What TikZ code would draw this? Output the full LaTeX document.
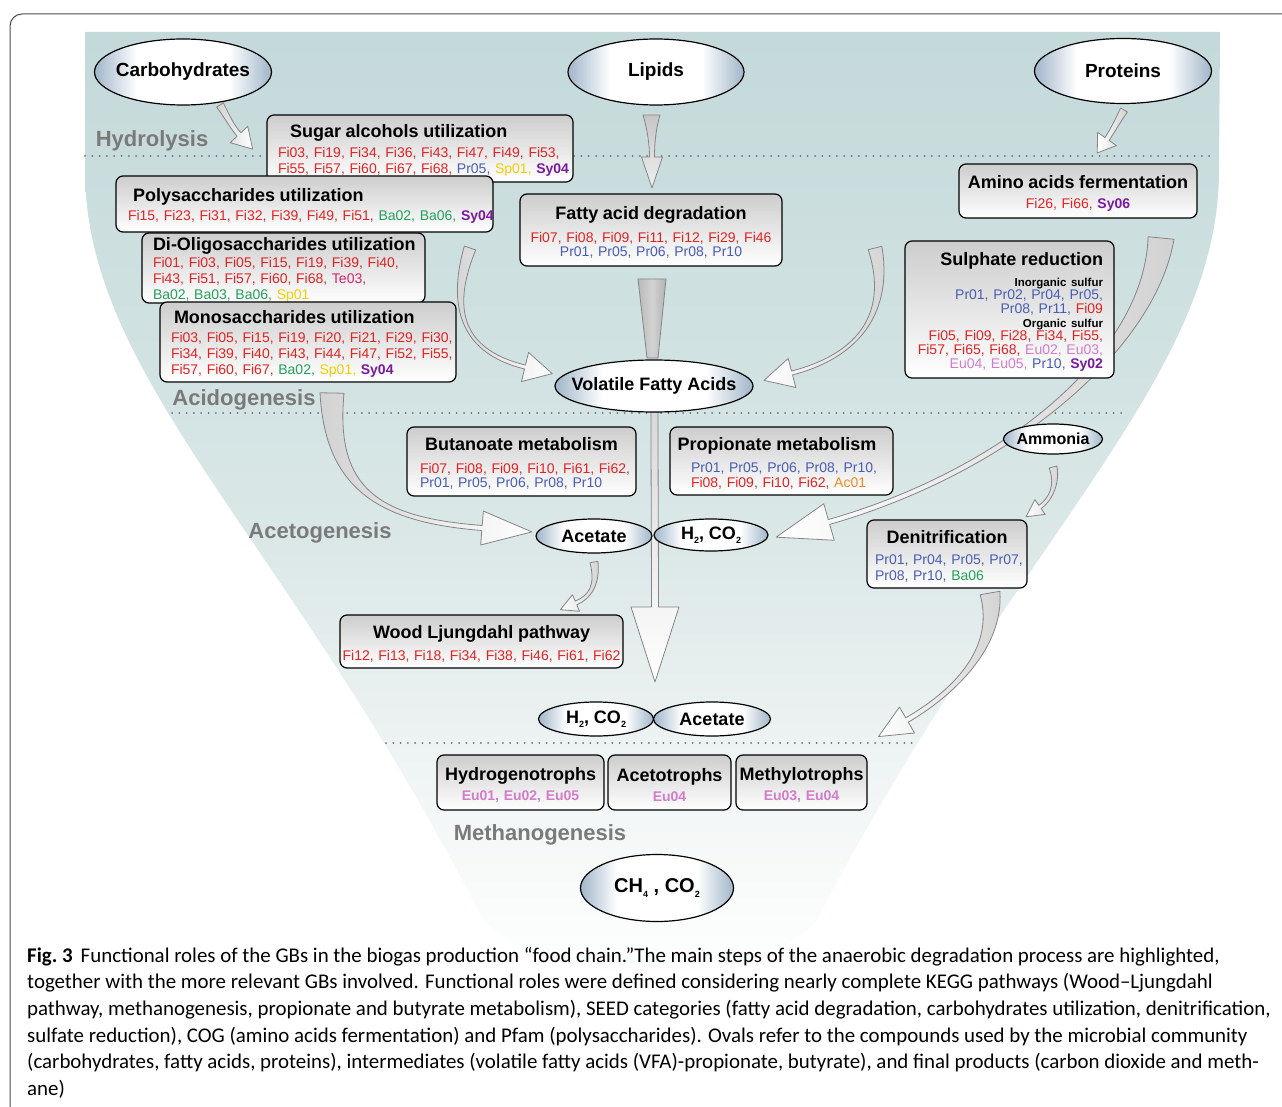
\documentclass[tikz,border=0pt]{standalone}
\usepackage{fontspec}
\setmainfont{Liberation Sans}
\newfontfamily\capfont{Carlito}
\usetikzlibrary{calc,shapes.geometric}
\definecolor{boxtop}{HTML}{CDCDCD}
\definecolor{elc}{HTML}{A0B6C9}
\definecolor{stagegray}{HTML}{7A7A7A}
\definecolor{dotgray}{HTML}{707070}
\definecolor{arrowline}{HTML}{858585}
\definecolor{framecol}{HTML}{4D4D4D}
\definecolor{cfi}{HTML}{E02424}
\definecolor{cpr}{HTML}{4A5DB4}
\definecolor{csp}{HTML}{F2CF00}
\definecolor{csy}{HTML}{7A1AA0}
\definecolor{cba}{HTML}{23A15B}
\definecolor{cte}{HTML}{D8246F}
\definecolor{ceu}{HTML}{D37CCB}
\definecolor{cac}{HTML}{F08A24}
\definecolor{fun1}{HTML}{C4D9DA}
\definecolor{fun2}{HTML}{D3E3E3}
\definecolor{fun3}{HTML}{DCE8E8}
\definecolor{fun4}{HTML}{E8EFEF}
\definecolor{fun5}{HTML}{F7F9F9}
\pgfdeclarehorizontalshading{ellsh}{100bp}{color(0bp)=(elc); color(25bp)=(elc); color(37bp)=(white); color(63bp)=(white); color(75bp)=(elc); color(100bp)=(elc)}
\pgfdeclareverticalshading{funsh}{100bp}{color(0bp)=(white); color(25bp)=(white); color(32bp)=(fun5); color(41bp)=(fun4); color(48bp)=(fun3); color(56bp)=(fun2); color(75bp)=(fun1); color(100bp)=(fun1)}
\newcommand\gbF[1]{\textcolor{cfi}{#1}}
\newcommand\gbP[1]{\textcolor{cpr}{#1}}
\newcommand\gbS[1]{\textcolor{csp}{#1}}
\newcommand\gbY[1]{\textcolor{csy}{\bfseries #1}}
\newcommand\gbB[1]{\textcolor{cba}{#1}}
\newcommand\gbT[1]{\textcolor{cte}{#1}}
\newcommand\gbE[1]{\textcolor{ceu}{#1}}
\newcommand\gbA[1]{\textcolor{cac}{#1}}
\newcommand\boxtitle[1]{\mbox{\rule{0pt}{17.5pt}\fontsize{18}{20}\selectfont\bfseries #1}}
\newcommand\subsc[1]{\raisebox{-0.22em}{\fontsize{9}{9}\selectfont #1}}
\newcommand\blockarrow[9]{%
 \path[#9] ($(#1)!#5!90:(#2)$) .. controls ($(#2)!{0.25*#5+0.75*#6}!-90:(#1)$) and ($(#3)!#6!90:(#4)$) .. ($(#4)!#6!-90:(#3)$)
 -- ($(#4)!#7!-90:(#3)$) -- ($(#4)!-#8!(#3)$) -- ($(#4)!#7!90:(#3)$) -- ($(#4)!#6!90:(#3)$)
 .. controls ($(#3)!#6!-90:(#4)$) and ($(#2)!{0.25*#5+0.75*#6}!90:(#1)$) .. ($(#1)!#5!-90:(#2)$) -- cycle;}
\newcommand\ellip[6]{%
 \node[ell, minimum width=#3pt, minimum height=#4pt] (#1) at (#2) {};
 \node[elltxt, font=\bfseries\fontsize{#5}{#5}\selectfont] (#1t) at (#1.center) {#6};}
\tikzset{
 bx/.style={draw=black, line width=1.2pt, rounded corners=7pt, top color=boxtop, bottom color=white, inner ysep=0pt, font=\fontsize{14}{16}\selectfont},
 ell/.style={ellipse, draw=black, line width=1.2pt, shade, shading=ellsh, inner sep=0pt},
 elltxt/.style={inner sep=0pt},
 stage/.style={font=\bfseries\fontsize{22}{24}\selectfont, text=stagegray, inner sep=0pt},
 dotline/.style={draw=dotgray, line width=2pt, line cap=round, dash pattern=on 0pt off 7.3pt},
 blk/.style={draw=arrowline, line width=0.8pt, line join=round},
}
\begin{document}
\begin{tikzpicture}[x=1pt,y=-1pt]
\useasboundingbox (0,0) rectangle (1282,1107);
% funnel background
\path[shade, shading=funsh] (85,32) -- (1220,32) -- (1219,170)
  .. controls (1219,380) and (1014,540) .. (817,920)
  .. controls (760,990) and (545,990) .. (483,920)
  .. controls (290,540) and (85,380) .. (85,170) -- cycle;
% frame
\begin{scope}
\clip (0,0) rectangle (1282,1107);
\draw[framecol, line width=1pt, rounded corners=12pt] (10,14) rectangle (1320,1140);
\end{scope}
% dotted stage lines
\draw[dotline] (85,156) -- (1210,156);
\draw[dotline] (172,413) -- (1122,413);
\draw[dotline] (386,743) -- (915,743);
% stage labels
\node[stage] (hyd) at (152,141) {Hydrolysis};
\node[stage] (acid) at (244,400) {Acidogenesis};
\node[stage] (acet) at (320,533) {Acetogenesis};
\node[stage] (meth) at (540,835) {Methanogenesis};
% block arrows
\blockarrow{220,105}{225.4,113.4}{232,127}{239,134.5}{4pt}{2.5pt}{12pt}{20pt}{blk, left color=gray!35, right color=white}
\blockarrow{1124,110}{1119,118.6}{1111,133.3}{1107,139}{4pt}{2.5pt}{11.5pt}{17pt}{blk, left color=white, right color=gray!35}
\blockarrow{651.5,115}{651.5,130}{652,145}{652,157}{8.5pt}{2.5pt}{10.5pt}{31pt}{blk, top color=gray!45, bottom color=gray!12}
\path[blk, left color=gray!55, right color=gray!60, middle color=gray!35] (638,279) -- (647,358) -- (658,358) -- (666,279) -- cycle;
\blockarrow{654.5,412}{654.5,480}{655,560}{655,607}{3.5pt}{3.5pt}{24pt}{75pt}{blk, top color=gray!30, bottom color=white}
\blockarrow{470,248}{452,300}{455,350}{525,367}{6pt}{2pt}{15pt}{28pt}{blk, left color=gray!35, right color=white}
\blockarrow{875,248}{888,300}{872,352}{792,373}{7pt}{2pt}{15pt}{29pt}{blk, left color=white, right color=gray!35}
\blockarrow{332,393}{330,490}{380,520}{482,528}{12pt}{2.5pt}{17pt}{50pt}{blk, left color=gray!35, right color=white}
\blockarrow{1161,238}{1150,350}{1010,470}{829,522}{13pt}{2.5pt}{19pt}{55pt}{blk, left color=white, right color=gray!35}
\blockarrow{1053,467}{1058,485}{1050,500}{1040,507}{4pt}{2pt}{9pt}{17pt}{blk, left color=white, right color=gray!35}
\blockarrow{594,562}{598,585}{590,597}{576,603}{4pt}{2pt}{9pt}{17pt}{blk, left color=white, right color=gray!35}
\blockarrow{990,593}{1000,650}{950,695}{907,720}{10pt}{2.5pt}{15pt}{33pt}{blk, left color=white, right color=gray!35}
% boxes
\node[bx, inner xsep=11pt, text width=284pt, minimum height=67pt, align=left] (sugar) at (420,148.5)
{\hspace*{12pt}\boxtitle{Sugar alcohols utilization}\\[4pt]
\mbox{\gbF{Fi03, Fi19, Fi34, Fi36, Fi43, Fi47, Fi49, Fi53,}}\\
\mbox{\gbF{Fi55, Fi57, Fi60, Fi67, Fi68,} \gbP{Pr05,} \gbS{Sp01,} \gbY{Sy04}}};
\node[bx, inner xsep=12pt, text width=353pt, minimum height=56pt, align=left] (poly) at (304.5,204)
{\hspace*{5pt}\boxtitle{Polysaccharides utilization}\\[3pt]
\mbox{\gbF{Fi15, Fi23, Fi31, Fi32, Fi39, Fi49, Fi51,} \gbB{Ba02, Ba06,} \gbY{Sy04}}};
\node[bx, inner xsep=11pt, text width=261pt, minimum height=70pt, align=left] (dioligo) at (283.5,268)
{\boxtitle{Di-Oligosaccharides utilization}\\[1pt]
\mbox{\gbF{Fi01, Fi03, Fi05, Fi15, Fi19, Fi39, Fi40,}}\\
\mbox{\gbF{Fi43, Fi51, Fi57, Fi60, Fi68,} \gbT{Te03,}}\\
\mbox{\gbB{Ba02, Ba03, Ba06,} \gbS{Sp01}}};
\node[bx, inner xsep=11pt, text width=274pt, minimum height=80pt, align=left] (mono) at (308,342)
{\hspace*{3pt}\boxtitle{Monosaccharides utilization}\\[3pt]
\mbox{\gbF{Fi03, Fi05, Fi15, Fi19, Fi20, Fi21, Fi29, Fi30,}}\\
\mbox{\gbF{Fi34, Fi39, Fi40, Fi43, Fi44, Fi47, Fi52, Fi55,}}\\
\mbox{\gbF{Fi57, Fi60, Fi67,} \gbB{Ba02,} \gbS{Sp01,} \gbY{Sy04}}};
\node[bx, inner xsep=8pt, text width=246pt, minimum height=72pt, align=center, font=\fontsize{14}{14}\selectfont] (fatty) at (651,230)
{\boxtitle{Fatty acid degradation}\\[9pt]
\mbox{\gbF{Fi07, Fi08, Fi09, Fi11, Fi12, Fi29, Fi46}}\\
\mbox{\gbP{Pr01, Pr05, Pr06, Pr08, Pr10}}};
\node[bx, inner xsep=4pt, text width=230pt, minimum height=54pt, align=center] (amino) at (1078,191)
{\boxtitle{Amino acids fermentation}\\[4pt]
\mbox{\gbF{Fi26, Fi66,} \gbY{Sy06}}};
\node[bx, inner xsep=11pt, text width=187pt, minimum height=137pt, align=right, font=\fontsize{14}{13.7}\selectfont] (sulph) at (1009.5,309.5)
{\boxtitle{Sulphate reduction}\hspace*{10pt}\\[7.3pt]
\mbox{\bfseries\fontsize{11.5}{12}\selectfont Inorganic sulfur}\\
\mbox{\gbP{Pr01, Pr02, Pr04, Pr05,}}\\
\mbox{\gbP{Pr08, Pr11,} \gbF{Fi09}}\\
\mbox{\bfseries\fontsize{11.5}{12}\selectfont Organic sulfur}\\
\mbox{\gbF{Fi05, Fi09, Fi28, Fi34, Fi55,}}\\
\mbox{\gbF{Fi57, Fi65, Fi68,} \gbE{Eu02, Eu03,}}\\
\mbox{\gbE{Eu04, Eu05,} \gbP{Pr10,} \gbY{Sy02}}};
\node[bx, inner xsep=13pt, text width=203pt, minimum height=69pt, align=left, font=\fontsize{14}{14}\selectfont] (butan) at (521.5,461.5)
{\makebox[203pt]{\boxtitle{Butanoate metabolism}}\\[9pt]
\mbox{\gbF{Fi07, Fi08, Fi09, Fi10, Fi61, Fi62,}}\\
\mbox{\gbP{Pr01, Pr05, Pr06, Pr08, Pr10}}};
\node[bx, inner xsep=21pt, text width=181pt, minimum height=68pt, align=left, font=\fontsize{14}{15}\selectfont] (propi) at (781.5,461)
{\makebox[172pt]{\boxtitle{Propionate metabolism}}\\[7pt]
\mbox{\gbP{Pr01, Pr05, Pr06, Pr08, Pr10,}}\\
\mbox{\gbF{Fi08, Fi09, Fi10, Fi62,} \gbA{Ac01}}};
\node[bx, inner xsep=8pt, text width=144pt, minimum height=68pt, align=left] (denit) at (947,554)
{\makebox[144pt]{\boxtitle{Denitrification}}\\[5pt]
\mbox{\gbP{Pr01, Pr04, Pr05, Pr07,}}\\
\mbox{\gbP{Pr08, Pr10,} \gbB{Ba06}}};
\node[bx, inner xsep=4pt, text width=275pt, minimum height=53pt, align=left] (wood) at (481.5,641.5)
{\makebox[275pt]{\boxtitle{Wood Ljungdahl pathway}}\\[6pt]
\makebox[275pt]{\gbF{Fi12, Fi13, Fi18, Fi34, Fi38, Fi46, Fi61, Fi62}}};
\node[bx, inner xsep=3pt, text width=161pt, minimum height=55pt, align=center] (hydro) at (520.5,782.5)
{\boxtitle{Hydrogenotrophs}\\[4pt]\mbox{\bfseries\gbE{Eu01, Eu02, Eu05}}};
\node[bx, inner xsep=3pt, text width=117pt, minimum height=55pt, align=center] (aceto) at (669.5,782.5)
{\boxtitle{Acetotrophs}\\[4pt]\mbox{\bfseries\gbE{Eu04}}};
\node[bx, inner xsep=3pt, text width=125pt, minimum height=55pt, align=center] (methy) at (801.5,782.5)
{\boxtitle{Methylotrophs}\\[4pt]\mbox{\bfseries\gbE{Eu03, Eu04}}};
% ellipses
\ellip{carb}{183,72}{177}{66}{19}{Carbohydrates}
\ellip{lipids}{656,72}{176}{66}{19}{Lipids}
\ellip{proteins}{1123,71}{177}{65}{19}{Proteins}
\ellip{vfa}{654,386}{198}{52}{18}{Volatile Fatty Acids}
\ellip{acetA}{594,536}{116}{34}{18}{Acetate}
\ellip{hcA}{711,535}{114}{32}{18}{H\subsc{2}, CO\subsc{2}}
\ellip{ammonia}{1053,439}{99}{30}{16}{Ammonia}
\ellip{hcB}{596,719}{115}{34}{18}{H\subsc{2}, CO\subsc{2}}
\ellip{acetB}{712,719}{117}{34}{18}{Acetate}
\ellip{ch}{657,888}{153}{67}{20}{CH\subsc{4} , CO\subsc{2}}
% caption
\node[anchor=north west, inner sep=0pt, align=left,
  font=\capfont\fontsize{20.9}{26.6}\selectfont] (caption) at (27,947)
{\frenchspacing\textbf{Fig.~3}\hspace{8pt}Functional roles of the GBs in the biogas production “food chain.”The main steps of the anaerobic degradation process are highlighted,\\
together with the more relevant GBs involved. Functional roles were defined considering nearly complete KEGG pathways (Wood–Ljungdahl\\
pathway, methanogenesis, propionate and butyrate metabolism), SEED categories (fatty acid degradation, carbohydrates utilization, denitrification,\\
sulfate reduction), COG (amino acids fermentation) and Pfam (polysaccharides). Ovals refer to the compounds used by the microbial community\\
(carbohydrates, fatty acids, proteins), intermediates (volatile fatty acids (VFA)-propionate, butyrate), and final products (carbon dioxide and meth-\\
ane)};
\end{tikzpicture}
\end{document}
